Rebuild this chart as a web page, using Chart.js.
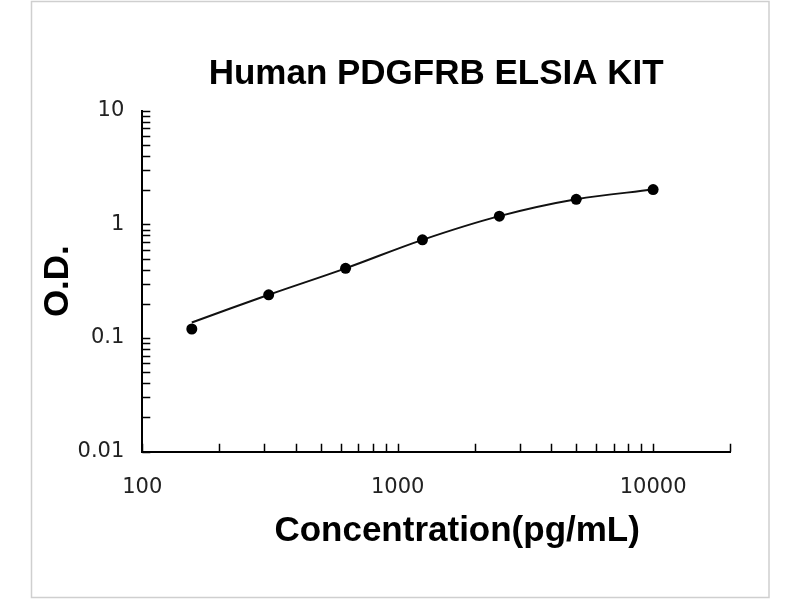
<!DOCTYPE html>
<html lang="en">
<head>
  <meta charset="utf-8">
  <title>Human PDGFRB ELSIA KIT</title>
  <style>
    body {
      margin: 0;
      background: #fff;
    }
    #chart-container {
      width: 800px;
      height: 600px;
    }
    canvas {
      display: block;
    }
  </style>
  <script src="https://cdn.jsdelivr.net/npm/chart.js"></script>
</head>
<body>
<div id="chart-container">
  <canvas id="curveChart" width="800" height="600"></canvas>
</div>
<script>
// standard concentrations (pg/mL) and measured O.D.
var concentrations = [156.25, 312.5, 625, 1250, 2500, 5000, 10000];
var odValues = [0.12, 0.24, 0.41, 0.73, 1.18, 1.66, 2.02];
// fitted curve at the same concentrations
var curveOd = [0.137, 0.24, 0.41, 0.73, 1.18, 1.66, 2.02];

// axis ticks (all drawn as small marks, only the labelled ones get text)
var xTicks = [100, 200, 300, 400, 500, 600, 700, 800, 900, 1000,
              2000, 3000, 4000, 5000, 6000, 7000, 8000, 9000, 10000, 20000];
var xLabels = [100, 1000, 10000];
var yTicks = [0.01, 0.02, 0.03, 0.04, 0.05, 0.06, 0.07, 0.08, 0.09, 0.1,
              0.2, 0.3, 0.4, 0.5, 0.6, 0.7, 0.8, 0.9, 1,
              2, 3, 4, 5, 6, 7, 8, 9, 10];
var yLabels = [0.01, 0.1, 1, 10];

var tickFont = { family: 'DejaVu Sans', size: 21 };
var titleFont = { family: 'Liberation Sans', size: 35, weight: 'bold', lineHeight: 1.2 };

function toPoints(xs, ys) {
  var pts = [];
  for (var i = 0; i < xs.length; i++) {
    pts.push({ x: xs[i], y: ys[i] });
  }
  return pts;
}

// frame round the picture, inward tick marks and the x axis title
var decorations = {
  id: 'decorations',
  beforeDraw: function(chart) {
    var ctx = chart.ctx;
    ctx.save();
    ctx.fillStyle = '#fff';
    ctx.fillRect(0, 0, chart.width, chart.height);
    ctx.strokeStyle = '#cfcfcf';
    ctx.lineWidth = 1.5;
    ctx.strokeRect(31.5, 1.5, 737.5, 596);
    ctx.restore();
  },
  afterDraw: function(chart) {
    var ctx = chart.ctx;
    var xs = chart.scales.x;
    var ys = chart.scales.y;
    var area = chart.chartArea;
    ctx.save();
    ctx.strokeStyle = '#000';
    ctx.lineWidth = 1.5;
    ctx.beginPath();
    xs.ticks.forEach(function(t) {
      var px = Math.round(xs.getPixelForValue(t.value)) + 0.5;
      ctx.moveTo(px, area.bottom);
      ctx.lineTo(px, area.bottom - 8);
    });
    ys.ticks.forEach(function(t) {
      var py = Math.round(ys.getPixelForValue(t.value)) + 0.5;
      ctx.moveTo(area.left, py);
      ctx.lineTo(area.left + 8, py);
    });
    ctx.stroke();

    ctx.fillStyle = '#000';
    ctx.font = 'bold 35px "Liberation Sans"';
    ctx.textAlign = 'center';
    ctx.textBaseline = 'middle';
    ctx.fillText('Concentration(pg/mL)', (area.left + area.right) / 2 + 21, area.bottom + 80);
    ctx.restore();
  }
};

var ctx = document.getElementById('curveChart').getContext('2d');
var curveChart = new Chart(ctx, {
  type: 'scatter',
  data: {
    datasets: [{
      label: 'Standards',
      data: toPoints(concentrations, odValues),
      showLine: false,
      pointRadius: 5.5,
      pointBackgroundColor: '#000',
      pointBorderColor: '#000',
      pointBorderWidth: 0,
      order: 1
    }, {
      label: 'Fit',
      data: toPoints(concentrations, curveOd),
      showLine: true,
      borderColor: '#111',
      borderWidth: 2,
      pointRadius: 0,
      tension: 0.35,
      order: 2
    }]
  },
  plugins: [decorations],
  options: {
    responsive: false,
    animation: false,
    events: [],
    layout: {
      padding: { left: 30, right: 70, top: 0, bottom: 0 }
    },
    plugins: {
      legend: { display: false },
      tooltip: { enabled: false },
      title: {
        display: true,
        text: 'Human PDGFRB ELSIA KIT',
        color: '#000',
        font: titleFont,
        fullSize: false,
        padding: { top: 53, bottom: 15.6 }
      }
    },
    scales: {
      x: {
        type: 'logarithmic',
        position: 'bottom',
        min: 100,
        max: 20000,
        afterBuildTicks: function(scale) {
          scale.ticks = xTicks.map(function(v) { return { value: v }; });
        },
        afterFit: function(scale) {
          scale.height = 148.3;
        },
        ticks: {
          autoSkip: false,
          maxRotation: 0,
          minRotation: 0,
          padding: 23,
          color: '#222',
          font: tickFont,
          callback: function(value) {
            return xLabels.indexOf(value) >= 0 ? String(value) : '';
          }
        },
        grid: { display: true, drawOnChartArea: false, drawTicks: false },
        border: { display: true, color: '#000', width: 2 }
      },
      y: {
        type: 'logarithmic',
        position: 'left',
        min: 0.01,
        max: 10,
        afterBuildTicks: function(scale) {
          scale.ticks = yTicks.map(function(v) { return { value: v }; });
        },
        afterFit: function(scale) {
          scale.width = 112.3;
        },
        ticks: {
          autoSkip: false,
          padding: 18,
          color: '#222',
          font: tickFont,
          callback: function(value) {
            return yLabels.indexOf(value) >= 0 ? String(value) : '';
          }
        },
        title: {
          display: true,
          text: 'O.D.',
          color: '#000',
          font: titleFont,
          padding: { top: 7.3, bottom: 0 }
        },
        grid: { display: true, drawOnChartArea: false, drawTicks: false },
        border: { display: true, color: '#000', width: 2 }
      }
    }
  }
});
</script>
</body>
</html>
